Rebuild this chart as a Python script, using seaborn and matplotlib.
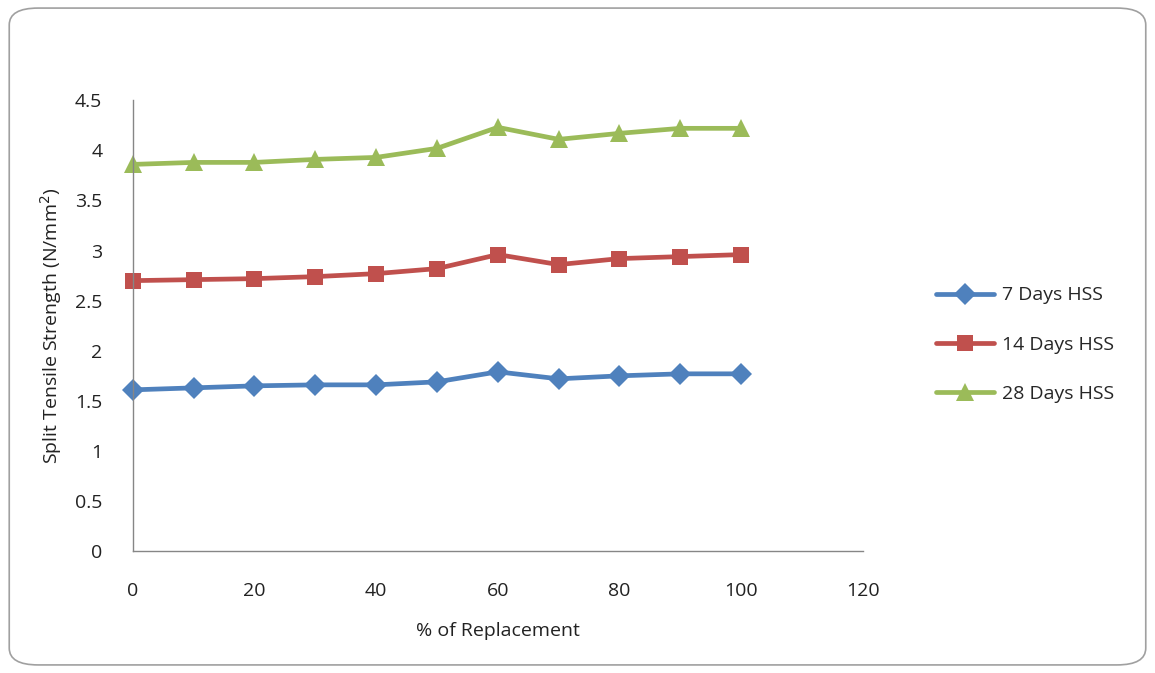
import numpy as np
import pandas as pd
import matplotlib
matplotlib.use("Agg")
import matplotlib.pyplot as plt
from matplotlib.patches import FancyBboxPatch
import seaborn as sns

replacement = [0, 10, 20, 30, 40, 50, 60, 70, 80, 90, 100]
days7 = [1.61, 1.63, 1.65, 1.66, 1.66, 1.69, 1.79, 1.72, 1.75, 1.77, 1.77]
days14 = [2.70, 2.71, 2.72, 2.74, 2.77, 2.82, 2.96, 2.86, 2.92, 2.94, 2.96]
days28 = [3.86, 3.88, 3.88, 3.91, 3.93, 4.02, 4.23, 4.11, 4.17, 4.22, 4.22]
series_names = ["7 Days HSS", "14 Days HSS", "28 Days HSS"]

df = pd.DataFrame({
    "x": replacement * 3,
    "y": days7 + days14 + days28,
    "series": np.repeat(series_names, len(replacement)),
})

sns.set_theme(style="white")
plt.rcParams["font.family"] = ["Open Sans", "DejaVu Sans"]

fig = plt.figure(figsize=(11.55, 6.73), dpi=100)
ax = fig.add_axes([0.115, 0.181, 0.632, 0.670])

palette = {"7 Days HSS": "#4F81BD", "14 Days HSS": "#C0504D", "28 Days HSS": "#9BBB59"}
markers = {"7 Days HSS": "D", "14 Days HSS": "s", "28 Days HSS": "^"}
sizes = {"7 Days HSS": 11, "14 Days HSS": 12, "28 Days HSS": 13}

for name in series_names:
    sub = df[df["series"] == name]
    sns.lineplot(data=sub, x="x", y="y", ax=ax, color=palette[name],
                 marker=markers[name], markersize=sizes[name],
                 markeredgewidth=0, linewidth=3.4, label=name,
                 clip_on=False)

ax.set_xlim(0, 120)
ax.set_ylim(0, 4.5)
ax.set_xticks(range(0, 121, 20))
ax.set_yticks(np.arange(0, 4.51, 0.5))
ax.set_yticklabels(["0", "0.5", "1", "1.5", "2", "2.5", "3", "3.5", "4", "4.5"])
ax.tick_params(axis="both", length=0, labelsize=14, colors="#222222")
ax.tick_params(axis="x", pad=22)
ax.tick_params(axis="y", pad=22)
for side in ["top", "right"]:
    ax.spines[side].set_visible(False)
for side in ["left", "bottom"]:
    ax.spines[side].set_color("#868686")
    ax.spines[side].set_linewidth(1.0)

ax.set_xlabel("% of Replacement", fontsize=14, color="#222222", labelpad=16)
ax.set_ylabel("Split Tensile Strength (N/mm$^2$)", fontsize=14, color="#222222", labelpad=8)

ax.get_legend().remove()
handles, labels = ax.get_legend_handles_labels()
fig.legend(handles, labels, loc="center left", bbox_to_anchor=(0.795, 0.488),
           frameon=False, fontsize=14, handlelength=3.0, labelspacing=1.6,
           handletextpad=0.4)

border = FancyBboxPatch((0.008, 0.012), 0.984, 0.976,
                        boxstyle="round,pad=0,rounding_size=0.025",
                        transform=fig.transFigure, facecolor="none",
                        edgecolor="#A0A0A0", linewidth=1.2)
fig.patches.append(border)

fig.savefig("out.png", dpi=100)
